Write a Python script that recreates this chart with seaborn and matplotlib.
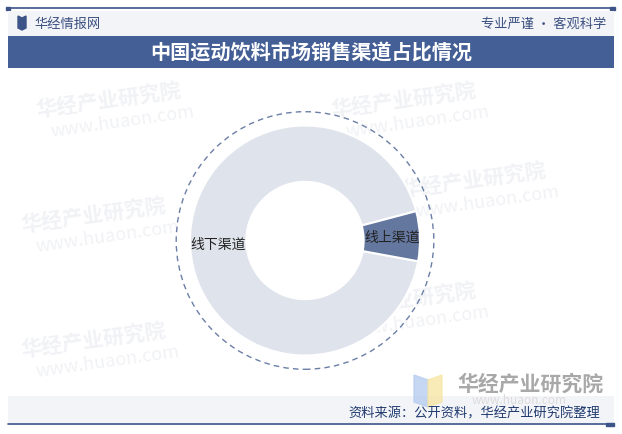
import matplotlib.pyplot as plt
import matplotlib.patches as mpatches
import seaborn as sns

channels = ['线下渠道', '线上渠道']
shares = [93, 7]
slice_colors = ['#dfe3ec', '#64779f']

title = '中国运动饮料市场销售渠道占比情况'
source = '资料来源：公开资料，华经产业研究院整理'

sns.set_theme(style='white')
plt.rcParams['font.family'] = ['Noto Sans CJK SC', 'DejaVu Sans']

W, H = 622, 435
fig = plt.figure(figsize=(W / 100, H / 100), dpi=100)
fig.patch.set_facecolor('white')

def fx(px):
    return px / W

def fy(py):
    return 1 - py / H

# background layer for header / footer decorations
bg = fig.add_axes([0, 0, 1, 1])
bg.set_xlim(0, W)
bg.set_ylim(H, 0)
bg.axis('off')

navy = '#3d5488'
# top line with end squares
bg.plot([8, 614], [9, 9], color=navy, lw=1.2)
bg.add_patch(mpatches.Rectangle((6, 7.5), 4, 3, color=navy))
bg.add_patch(mpatches.Rectangle((610, 7.5), 5, 3, color=navy))
# header band
bg.add_patch(mpatches.Rectangle((8, 12), 606, 25, color='#f3f4f8', lw=0))
# header icon
bg.add_patch(mpatches.Polygon([[18, 17], [22, 19], [22, 31], [18, 29]], color=navy))
bg.add_patch(mpatches.Polygon([[26, 17], [22, 19], [22, 31], [26, 29]], color=navy))
bg.text(34, 24.5, '华经情报网', fontsize=9.5, color='#3a4f80', va='center', ha='left')
bg.text(606, 24.5, '专业严谨 • 客观科学', fontsize=9.5, color='#3a4f80', va='center', ha='right')
# title bar
bg.add_patch(mpatches.Rectangle((8, 37), 606, 32, color='#445f96', lw=0))
bg.text(311, 53, title, fontsize=14.5, color='white', weight='bold', va='center', ha='center')

# watermarks
wm_color = '#f1f2f5'
for (x, y) in [(35, 100), (330, 100), (20, 215), (400, 180), (20, 340), (330, 300)]:
    bg.text(x, y, '华经产业研究院', fontsize=15, color=wm_color, weight='bold',
            rotation=8, va='center', ha='left', zorder=0)
    bg.text(x + 15, y + 22, 'www.huaon.com', fontsize=13, color=wm_color,
            rotation=8, va='center', ha='left', zorder=0)

# footer band
bg.add_patch(mpatches.Rectangle((8, 397), 606, 27, color='#f3f4f8', lw=0))
bg.plot([8, 612], [425, 425], color=navy, lw=1.2)
bg.add_patch(mpatches.Rectangle((606, 423.5), 8, 3, color=navy))

# bottom-right logo
bg.add_patch(mpatches.Polygon([[414, 376], [428, 381], [428, 408], [414, 403]], color='#b7cdf0', alpha=0.8))
bg.add_patch(mpatches.Polygon([[442, 376], [428, 381], [428, 408], [442, 403]], color='#f7e6a6', alpha=0.8))
bg.text(457, 384, '华经产业研究院', fontsize=15, color='#a8a8a8', weight='bold', va='center', ha='left')
bg.text(472, 400.5, 'www.huaon.com', fontsize=8.5, color='#dcdcdc', va='center', ha='left')
bg.text(600, 414, source, fontsize=9.5, color='#1f3a6e', va='center', ha='right')

# donut chart
cx, cy, r = 305, 241.5, 115
lim = 1.25
side = 2 * lim * r
ax = fig.add_axes([fx(cx - side / 2), fy(cy + side / 2), side / W, side / H])
ax.patch.set_alpha(0)
wedges, texts = ax.pie(shares, labels=channels, colors=slice_colors, startangle=14.8,
                       radius=1, labeldistance=0.76,
                       wedgeprops=dict(width=0.49, edgecolor='white', linewidth=1.5),
                       textprops=dict(fontsize=10, color='#222222', ha='center', va='center'))
ring = mpatches.Circle((0, 0), 1.12, fill=False, ls=(0, (4, 3)), lw=1, edgecolor='#6b7fa6')
ax.add_patch(ring)
ax.set_xlim(-lim, lim)
ax.set_ylim(-lim, lim)
ax.set_aspect('equal')
ax.axis('off')

fig.savefig('out.png', dpi=100)
